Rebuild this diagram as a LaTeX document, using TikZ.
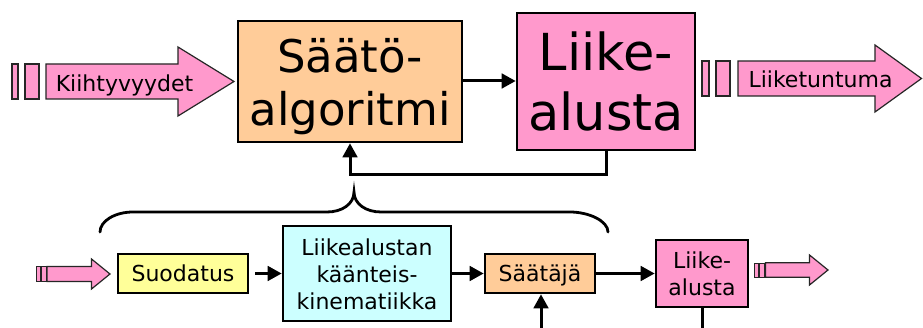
\documentclass[tikz,border=0pt]{standalone}
\usepackage{fontspec}
\setmainfont{DejaVu Sans}
\usetikzlibrary{arrows.meta}
\definecolor{pinkc}{HTML}{FF99CC}
\definecolor{orangec}{HTML}{FFCC99}
\definecolor{yellowc}{HTML}{FFFF99}
\definecolor{cyanc}{HTML}{CCFFFF}
\newcommand\myfatarrow[6]{%
  \filldraw[fatstyle] (#1,#4-#5) -- (#2,#4-#5) -- (#2,#4-#6) -- (#3,#4) -- (#2,#4+#6) -- (#2,#4+#5) -- (#1,#4+#5) -- cycle;}
\begin{document}
\begin{tikzpicture}[x=1pt,y=-1pt,
  box/.style={draw=black, line width=2.6pt, inner sep=0pt},
  conn/.style={line width=3pt, -{Triangle[length=14pt,width=14.5pt]}},
  plainline/.style={line width=3pt},
  fatstyle/.style={fill=pinkc, draw=black!85, line width=1.2pt, line join=miter},
  bigtxt/.style={anchor=base, inner sep=0pt, font=\fontsize{45}{54}\selectfont},
  liiketxt/.style={anchor=base, inner sep=0pt, font=\fontsize{51}{60}\selectfont},
  smalltxt/.style={anchor=base, inner sep=0pt, font=\fontsize{22}{27}\selectfont}]
\fill[white] (0,0) rectangle (923,328);
\useasboundingbox (0,0) rectangle (923,328);

% top row
\node[box, fill=orangec, minimum width=224pt, minimum height=121pt] (sa) at (350,81.5) {};
\node[bigtxt] (sa1) at (350,73) {Säätö-};
\node[bigtxt] (sa2) at (350,126) {algoritmi};

\node[box, fill=pinkc, minimum width=178pt, minimum height=137pt] (la) at (606,81.5) {};
\node[liiketxt] (la1) at (606,71) {Liike-};
\node[liiketxt] (la2) at (606,131) {alusta};

\draw[conn] (sa.east |- 0,81) -- (la.west |- 0,81);
\coordinate (fb) at (350,175);
\draw[conn] (la.south) |- (fb) -- (sa.south);

% input fat arrow
\filldraw[fatstyle] (12,64) rectangle (18,99);
\filldraw[fatstyle] (25,64) rectangle (39,99);
\myfatarrow{46}{178}{234}{81.5}{17.5}{34.5}
\node[smalltxt] (kiiht) at (124.5,92) {Kiihtyvyydet};

% output fat arrow
\filldraw[fatstyle] (702,61) rectangle (709,96);
\filldraw[fatstyle] (716,61) rectangle (730,96);
\myfatarrow{738}{875}{921.5}{78.5}{17.5}{33.5}
\node[smalltxt] (liiket) at (820.5,88) {Liiketuntuma};

% brace
\draw[line width=2.8pt, line cap=round] (100,232) .. controls (100,221) and (115,212) .. (133,212)
  -- (327,212) .. controls (342,212) and (354,204) .. (354,192)
  .. controls (354,204) and (366,212) .. (381,212)
  -- (570,212) .. controls (589,212) and (608,221) .. (608,232);

% bottom row
\filldraw[fatstyle, line width=0.9pt] (36,266.5) rectangle (40.5,281.5);
\filldraw[fatstyle, line width=0.9pt] (41,266.5) rectangle (46,281.5);
\myfatarrow{47}{91.5}{110}{274}{7.5}{15}

\node[box, fill=yellowc, minimum width=130pt, minimum height=39pt] (suo) at (183,273.5) {};
\node[smalltxt] (suot) at (183,282) {Suodatus};

\node[box, fill=cyanc, minimum width=168pt, minimum height=95pt] (kin) at (367,273.5) {};
\node[smalltxt] (kin1) at (367,256) {Liikealustan};
\node[smalltxt] (kin2) at (367,283) {käänteis-};
\node[smalltxt] (kin3) at (367,310) {kinematiikka};

\node[box, fill=orangec, minimum width=110pt, minimum height=39pt] (saj) at (540,273.5) {};
\node[smalltxt] (sajt) at (540,282) {Säätäjä};

\node[box, fill=pinkc, minimum width=92pt, minimum height=67pt] (sla) at (702,273.5) {};
\node[smalltxt] (sla1) at (702,269) {Liike-};
\node[smalltxt] (sla2) at (702,296) {alusta};

\filldraw[fatstyle, line width=0.9pt] (754.5,263) rectangle (758.5,277);
\filldraw[fatstyle, line width=0.9pt] (759,263) rectangle (764,277);
\myfatarrow{765.5}{809.5}{828}{270}{7.3}{15}

\draw[conn, shorten <=6pt] (suo.east) -- (kin.west);
\draw[conn] (kin.east) -- (saj.west);
\draw[conn] (saj.east) -- (sla.west);

\coordinate (sajin) at (541,328);
\coordinate (slaout) at (702,328);
\draw[conn] (sajin) -- (sajin |- saj.south);
\draw[plainline] (sla.south) -- (slaout);
\end{tikzpicture}
\end{document}
